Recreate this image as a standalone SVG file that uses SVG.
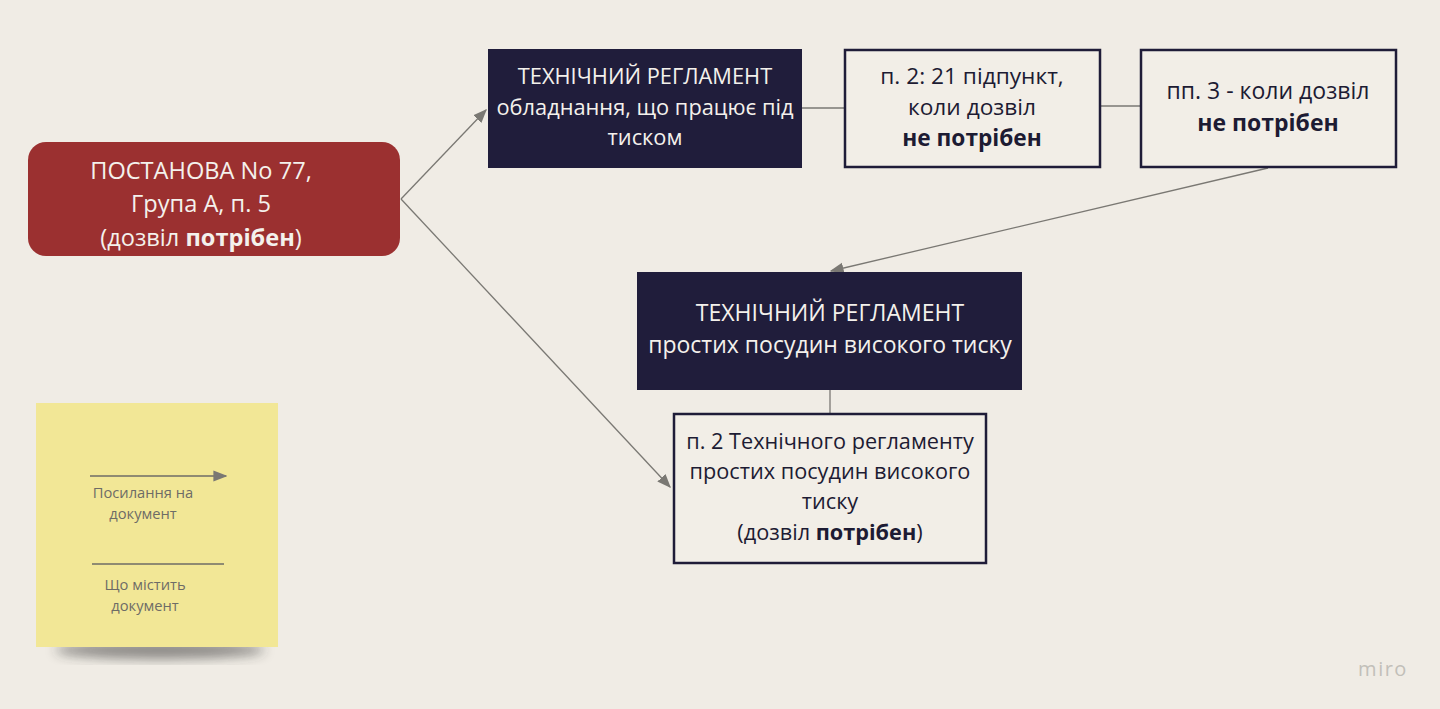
<svg xmlns="http://www.w3.org/2000/svg" width="1440" height="709" viewBox="0 0 1440 709">
<defs>
<style>
.t{font-family:"Open Sans","Noto Sans","DejaVu Sans",sans-serif;text-anchor:middle}
.w{fill:#f4f1ec}
.d{fill:#1d1b33}
.b{font-weight:bold}
.s{fill:#6e6c66;font-size:14.7px}
.dark{fill:#201d3b}
.out{fill:#f2eee7;stroke:#1f1c38;stroke-width:2.5}
.c{stroke:#7a7873;stroke-width:1.3;fill:none}
</style>
<marker id="ah" viewBox="0 0 10 10" refX="9" refY="5" markerWidth="14" markerHeight="14" markerUnits="userSpaceOnUse" orient="auto">
<path d="M0,1 L10,5 L0,9 z" fill="#7a7873"/>
</marker>
<filter id="sh" x="-30%" y="-30%" width="160%" height="160%"><feGaussianBlur stdDeviation="6"/></filter>
</defs>
<rect width="1440" height="709" fill="#f0ece5"/>
<g id="connectors">
<line class="c" x1="401" y1="199" x2="486" y2="110" marker-end="url(#ah)"/>
<line class="c" x1="401" y1="199" x2="670" y2="487" marker-end="url(#ah)"/>
<line class="c" x1="802" y1="108" x2="844" y2="108"/>
<line class="c" x1="1100" y1="106" x2="1140" y2="106"/>
<line class="c" x1="1268" y1="168" x2="831" y2="271" marker-end="url(#ah)"/>
<line class="c" x1="830" y1="390" x2="830" y2="413"/>
</g>
<g id="postanova">
<rect x="28" y="142" width="372" height="114" rx="18" fill="#9b3030"/>
<g class="t w" font-size="23.6">
<text x="201" y="179">ПОСТАНОВА No 77,</text>
<text x="201" y="212">Група А, п. 5</text>
<text x="201" y="246">(дозвіл <tspan class="b">потрібен</tspan>)</text>
</g>
</g>
<g id="reg1">
<rect class="dark" x="488" y="49" width="314" height="119"/>
<g class="t w" font-size="21.8">
<text x="645" y="84">ТЕХНІЧНИЙ РЕГЛАМЕНТ</text>
<text x="645" y="115">обладнання, що працює під</text>
<text x="645" y="145">тиском</text>
</g>
</g>
<g id="p2">
<rect class="out" x="845" y="50" width="255" height="117"/>
<g class="t d" font-size="22.7">
<text x="972" y="84">п. 2: 21 підпункт,</text>
<text x="972" y="115">коли дозвіл</text>
<text class="b" x="972" y="146">не потрібен</text>
</g>
</g>
<g id="pp3">
<rect class="out" x="1141" y="50" width="255" height="117"/>
<g class="t d" font-size="23">
<text x="1268" y="99">пп. 3 - коли дозвіл</text>
<text class="b" x="1268" y="131">не потрібен</text>
</g>
</g>
<g id="reg2">
<rect class="dark" x="637" y="272" width="385" height="118"/>
<g class="t w" font-size="23">
<text x="830" y="321">ТЕХНІЧНИЙ РЕГЛАМЕНТ</text>
<text x="830" y="353">простих посудин високого тиску</text>
</g>
</g>
<g id="p2reg">
<rect class="out" x="674" y="414" width="312" height="149"/>
<g class="t d" font-size="21.7">
<text x="830" y="449">п. 2 Технічного регламенту</text>
<text x="830" y="479">простих посудин високого</text>
<text x="830" y="509">тиску</text>
<text x="830" y="540">(дозвіл <tspan class="b">потрібен</tspan>)</text>
</g>
</g>
<g id="legend">
<ellipse cx="160" cy="650" rx="105" ry="9" fill="#2a2a2a" opacity="0.5" filter="url(#sh)"/>
<rect x="36" y="403" width="242" height="244" fill="#f2e796"/>
<line x1="90" y1="476" x2="226" y2="476" stroke="#6e6c66" stroke-width="1.3" marker-end="url(#ah)"/>
<text class="t s" x="143" y="498">Посилання на</text>
<text class="t s" x="143" y="519">документ</text>
<line x1="92" y1="564" x2="224" y2="564" stroke="#6e6c66" stroke-width="1.3"/>
<text class="t s" x="145" y="590">Що містить</text>
<text class="t s" x="145" y="611">документ</text>
</g>
<text class="t" x="1383" y="676" font-size="20" fill="#c2bfb9" letter-spacing="1.5">miro</text>
</svg>
